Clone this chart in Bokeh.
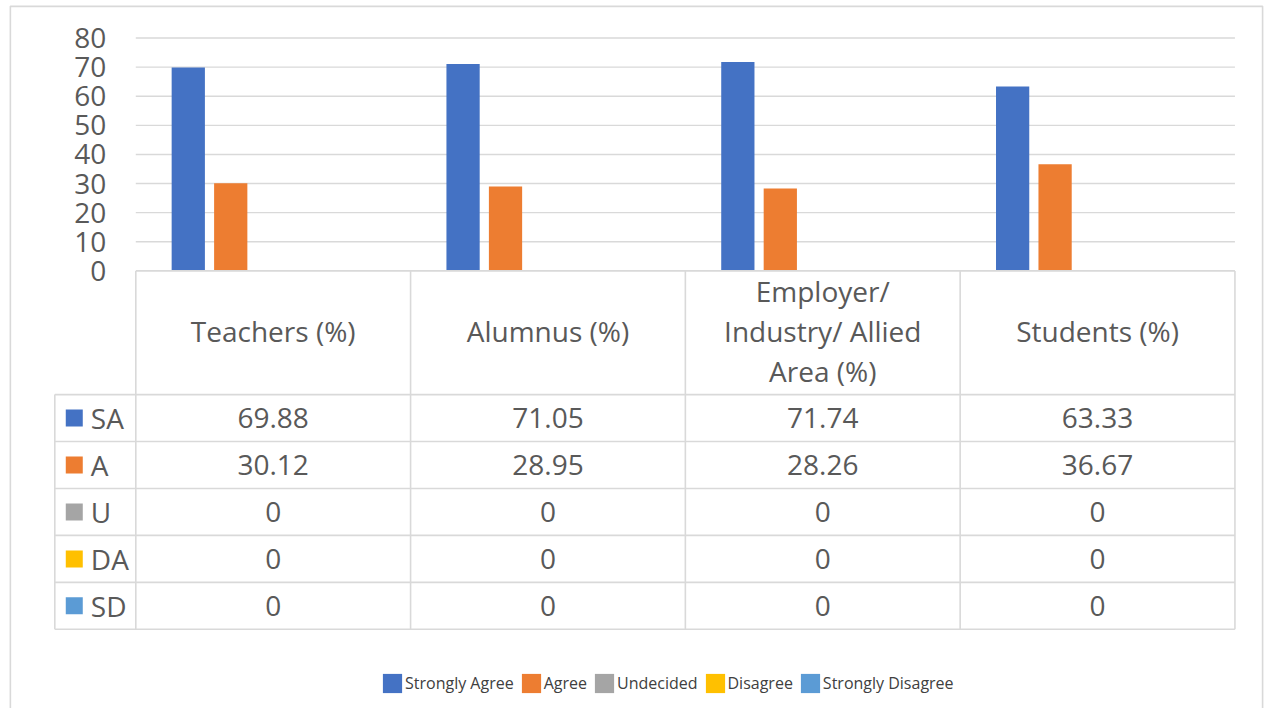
from bokeh.plotting import figure
from bokeh.models import Range1d, Legend, LegendItem, ColumnDataSource
from bokeh.core.properties import value
from bokeh.embed import file_html
from bokeh.resources import INLINE

# ---------------- data ----------------
categories = ["Teachers (%)", "Alumnus (%)", "Employer/\nIndustry/ Allied\nArea (%)", "Students (%)"]
series_codes = ["SA", "A", "U", "DA", "SD"]
series_names = ["Strongly Agree", "Agree", "Undecided", "Disagree", "Strongly Disagree"]
sa = [69.88, 71.05, 71.74, 63.33]
a = [30.12, 28.95, 28.26, 36.67]
u = [0, 0, 0, 0]
da = [0, 0, 0, 0]
sd = [0, 0, 0, 0]
y_ticks = [0, 10, 20, 30, 40, 50, 60, 70, 80]
colors = ["#4472C4", "#ED7D31", "#A5A5A5", "#FFC000", "#5B9BD5"]

# ---------------- layout (reference pixels scaled to figure) ----------------
W, H = 1269, 708
SX, SY = W / 1285.0, H / 724.0


def fx(rx):
    return rx * SX


def fy(ry):
    return ry * SY


X0 = fx(137.0)              # left edge of first category
CAT_W = fx(278.25)          # width of one category
Y0 = fy(276.5)              # pixel row of value 0
PPU = 2.977 * SY            # pixels per value unit
HB = fy(403.0)              # bottom of header row
ROW_H = 48.0 * SY
TL = fx(55.0)               # left edge of table label column
STEP = 0.1545
BW = 0.121
FONT = "Open Sans"
FS = "28px"
TXT = "#595959"
LINE = "#d9d9d9"

n = len(categories)
series = [sa, a, u, da, sd]

p = figure(width=W, height=H, output_backend="svg", toolbar_location=None,
           x_range=Range1d(-X0 / CAT_W, (W - X0) / CAT_W),
           y_range=Range1d(-(H - Y0) / PPU, Y0 / PPU),
           x_axis_type=None, y_axis_type=None, min_border=0,
           outline_line_color=None, background_fill_color="white",
           border_fill_color="white")
p.extra_x_ranges = {"px": Range1d(0, W)}
p.extra_y_ranges = {"py": Range1d(H, 0)}

# outer chart border
p.quad(left=[fx(10)], right=[fx(1278)], top=[fy(6)], bottom=[H + 6], x_range_name="px", y_range_name="py",
       fill_color=None, line_color=LINE, line_width=1.6)

# gridlines
gt = y_ticks[1:]
p.segment(x0=[0] * len(gt), x1=[n] * len(gt), y0=gt, y1=gt, line_color=LINE, line_width=1.4)

# y tick labels
p.text(x=[fx(107)] * len(y_ticks), y=y_ticks, text=[str(t) for t in y_ticks], x_range_name="px",
       text_align="right", text_baseline="middle", text_font=value(FONT),
       text_font_size=FS, text_color=TXT)

# bars
renderers = []
for k, vals in enumerate(series):
    xs = [i + 0.5 + (k - 2) * STEP for i in range(n)]
    src = ColumnDataSource(dict(x=xs, top=vals))
    r = p.vbar(x="x", top="top", bottom=0, width=BW, source=src,
               fill_color=colors[k], line_color=None)
    renderers.append(r)

# data table lines
nrows = len(series)
TB = HB + nrows * ROW_H
bx = list(range(n + 1))
p.segment(x0=bx, x1=bx, y0=[Y0] * len(bx), y1=[TB] * len(bx), y_range_name="py",
          line_color=LINE, line_width=1.6)
p.segment(x0=[0], x1=[n], y0=[Y0], y1=[Y0], y_range_name="py", line_color=LINE, line_width=1.6)
p.segment(x0=[TL], x1=[TL], y0=[HB], y1=[TB], x_range_name="px", y_range_name="py",
          line_color=LINE, line_width=1.6)
ry = [HB + k * ROW_H for k in range(nrows + 1)]
p.segment(x0=[TL] * len(ry), x1=[X0 + n * CAT_W] * len(ry), y0=ry, y1=ry,
          x_range_name="px", y_range_name="py", line_color=LINE, line_width=1.6)

# header labels
p.text(x=[i + 0.5 for i in range(n)], y=[(Y0 + HB) / 2 - 1.5] * n, text=categories, y_range_name="py",
       text_align="center", text_baseline="middle", text_font=value(FONT),
       text_font_size=FS, text_color=TXT, text_line_height=1.05)

# cell values
cx, cy, ct = [], [], []
for r_i, vals in enumerate(series):
    for i, v in enumerate(vals):
        cx.append(i + 0.5)
        cy.append(HB + (r_i + 0.5) * ROW_H)
        ct.append(f"{v:g}")
p.text(x=cx, y=cy, text=ct, y_range_name="py", text_align="center", text_baseline="middle",
       text_font=value(FONT), text_font_size=FS, text_color=TXT)

# row labels with colour keys
rcy = [HB + (r_i + 0.5) * ROW_H for r_i in range(nrows)]
p.rect(x=[fx(74.7)] * nrows, y=rcy, width=17, height=17, x_range_name="px", y_range_name="py",
       fill_color=colors, line_color=None)
p.text(x=[fx(91.5)] * nrows, y=rcy, text=series_codes, x_range_name="px", y_range_name="py",
       text_align="left", text_baseline="middle", text_font=value(FONT),
       text_font_size=FS, text_color=TXT)

# legend
leg_cy = fy(698)
legend = Legend(items=[LegendItem(label=nm, renderers=[r]) for nm, r in zip(series_names, renderers)],
                orientation="horizontal", location=(int(round(fx(387) - 2.4)), int(round(H - leg_cy - 12))),
                glyph_width=24, glyph_height=24, label_standoff=1, spacing=5, padding=0, margin=0,
                border_line_color=None, background_fill_alpha=0, label_text_font=FONT,
                label_text_font_size="16px", label_text_color="#404040")
p.add_layout(legend)

open("out.html", "w").write(file_html(p, INLINE))
